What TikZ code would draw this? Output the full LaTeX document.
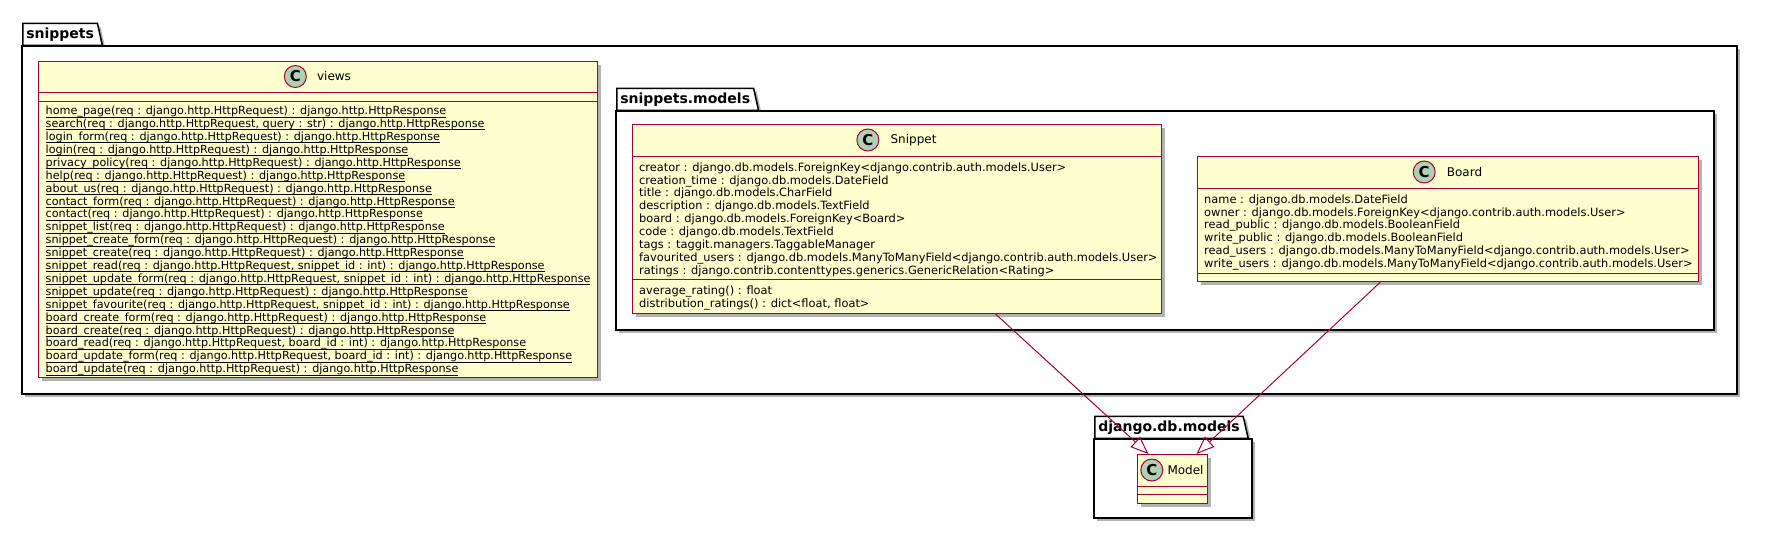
\documentclass[tikz,border=0pt]{standalone}
\usepackage{fontspec}
\setmainfont{DejaVu Sans}
\usetikzlibrary{positioning,shadows,shapes.geometric,arrows.meta}
\definecolor{umlred}{HTML}{A80036}
\definecolor{umlfill}{HTML}{FEFECE}
\definecolor{spotfill}{HTML}{ADD1B2}
% podcrtano kot v PlantUML (crta na visini podcrtaja)
\newcommand{\stat}[1]{\setbox0\hbox{#1}\rlap{\rule[-2.7pt]{\wd0}{0.9pt}}\box0}

\begin{document}
\begin{tikzpicture}[
		x=1pt, y=-1pt,
		% senca kot v PlantUML
		umlshadow/.style={drop shadow={shadow xshift=3pt, shadow yshift=-3pt, fill=black, opacity=.3}},
		package/.style={draw=black, line width=1.5pt, fill=white, umlshadow},
		pkgtab/.style={package, trapezium, trapezium left angle=90, trapezium right angle=70, trapezium stretches=true, minimum height=22pt, inner xsep=3.5pt, inner ysep=0pt, anchor=bottom left corner, font=\bfseries\fontsize{14}{16}\selectfont},
		umlclass/.style={draw=umlred, line width=1pt, fill=umlfill, inner sep=0pt, anchor=north west, umlshadow},
		umlline/.style={draw=umlred, line width=1pt},
		spot/.style={circle, draw=umlred, line width=1pt, fill=spotfill, minimum size=22pt, inner sep=0pt, font=\bfseries\fontsize{15}{15}\selectfont},
		classname/.style={inner sep=0pt, font=\fontsize{12}{14}\selectfont},
		member/.style={inner sep=0pt, anchor=north west, align=left, font=\fontsize{11.4}{12.9}\selectfont},
		extends/.style={draw=umlred, line width=1pt, -{Triangle[open, length=18pt, width=14pt]}}
		]
		\useasboundingbox (0,0) rectangle (1771,544);

		% paket snippets
		\node[pkgtab] (snippetstab) at (22,46) {snippets};
		\draw[package] (snippetstab.bottom left corner) rectangle (1737,394);

		% razred views
		\node[umlclass, minimum width=559pt, minimum height=316pt] (views) at (38,61) {};
		\draw[umlline] ([yshift=-31pt]views.north west) -- ([yshift=-31pt]views.north east);
		\draw[umlline] ([yshift=-40pt]views.north west) -- ([yshift=-40pt]views.north east);
		\node[classname] (viewsname) at ([xshift=16pt, yshift=-15.5pt]views.north) {views};
		\node[spot, left=10pt of viewsname] (viewsspot) {C};
		\node[member, font=\fontsize{11.2}{12.9}\selectfont] (viewsmethods) at (45.5,106) {%
			\stat{home\_page(req : django.http.HttpRequest) : django.http.HttpResponse}\\
			\stat{search(req : django.http.HttpRequest, query : str) : django.http.HttpResponse}\\
			\stat{login\_form(req : django.http.HttpRequest) : django.http.HttpResponse}\\
			\stat{login(req : django.http.HttpRequest) : django.http.HttpResponse}\\
			\stat{privacy\_policy(req : django.http.HttpRequest) : django.http.HttpResponse}\\
			\stat{help(req : django.http.HttpRequest) : django.http.HttpResponse}\\
			\stat{about\_us(req : django.http.HttpRequest) : django.http.HttpResponse}\\
			\stat{contact\_form(req : django.http.HttpRequest) : django.http.HttpResponse}\\
			\stat{contact(req : django.http.HttpRequest) : django.http.HttpResponse}\\
			\stat{snippet\_list(req : django.http.HttpRequest) : django.http.HttpResponse}\\
			\stat{snippet\_create\_form(req : django.http.HttpRequest) : django.http.HttpResponse}\\
			\stat{snippet\_create(req : django.http.HttpRequest) : django.http.HttpResponse}\\
			\stat{snippet\_read(req : django.http.HttpRequest, snippet\_id : int) : django.http.HttpResponse}\\
			\stat{snippet\_update\_form(req : django.http.HttpRequest, snippet\_id : int) : django.http.HttpResponse}\\
			\stat{snippet\_update(req : django.http.HttpRequest) : django.http.HttpResponse}\\
			\stat{snippet\_favourite(req : django.http.HttpRequest, snippet\_id : int) : django.http.HttpResponse}\\
			\stat{board\_create\_form(req : django.http.HttpRequest) : django.http.HttpResponse}\\
			\stat{board\_create(req : django.http.HttpRequest) : django.http.HttpResponse}\\
			\stat{board\_read(req : django.http.HttpRequest, board\_id : int) : django.http.HttpResponse}\\
			\stat{board\_update\_form(req : django.http.HttpRequest, board\_id : int) : django.http.HttpResponse}\\
			\stat{board\_update(req : django.http.HttpRequest) : django.http.HttpResponse}};

		% paket snippets.models
		\node[pkgtab] (modelstab) at (616,111) {snippets.models};
		\draw[package] (modelstab.bottom left corner) rectangle (1714,330);

		% razred Snippet
		\node[umlclass, minimum width=529pt, minimum height=189pt] (snippet) at (632,124) {};
		\draw[umlline] ([yshift=-32pt]snippet.north west) -- ([yshift=-32pt]snippet.north east);
		\draw[umlline] ([yshift=-155pt]snippet.north west) -- ([yshift=-155pt]snippet.north east);
		\node[classname] (snippetname) at ([xshift=16.5pt, yshift=-16pt]snippet.north) {Snippet};
		\node[spot, left=11pt of snippetname] (snippetspot) {C};
		\node[member] (snippetattrs) at (639,162.3) {%
			creator : django.db.models.ForeignKey<django.contrib.auth.models.User>\\
			creation\_time : django.db.models.DateField\\
			title : django.db.models.CharField\\
			description : django.db.models.TextField\\
			board : django.db.models.ForeignKey<Board>\\
			code : django.db.models.TextField\\
			tags : taggit.managers.TaggableManager\\
			favourited\_users : django.db.models.ManyToManyField<django.contrib.auth.models.User>\\
			ratings : django.contrib.contenttypes.generics.GenericRelation<Rating>};
		\node[member] (snippetmethods) at (639,285.3) {%
			average\_rating() : float\\
			distribution\_ratings() : dict<float, float>};

		% razred Board
		\node[umlclass, minimum width=501pt, minimum height=125pt] (board) at (1197,156) {};
		\draw[umlline] ([yshift=-32.5pt]board.north west) -- ([yshift=-32.5pt]board.north east);
		\draw[umlline] ([yshift=-117pt]board.north west) -- ([yshift=-117pt]board.north east);
		\node[classname] (boardname) at ([xshift=16.5pt, yshift=-16pt]board.north) {Board};
		\node[spot, left=11pt of boardname] (boardspot) {C};
		\node[member] (boardattrs) at (1204,194.3) {%
			name : django.db.models.DateField\\
			owner : django.db.models.ForeignKey<django.contrib.auth.models.User>\\
			read\_public : django.db.models.BooleanField\\
			write\_public : django.db.models.BooleanField\\
			read\_users : django.db.models.ManyToManyField<django.contrib.auth.models.User>\\
			write\_users : django.db.models.ManyToManyField<django.contrib.auth.models.User>};

		% paket django.db.models
		\node[pkgtab] (djangotab) at (1094,439) {django.db.models};
		\draw[package] (djangotab.bottom left corner) rectangle (1252,518);

		% razred Model
		\node[umlclass, minimum width=70pt, minimum height=49pt] (model) at (1137,454) {};
		\draw[umlline] ([yshift=-32pt]model.north west) -- ([yshift=-32pt]model.north east);
		\draw[umlline] ([yshift=-40pt]model.north west) -- ([yshift=-40pt]model.north east);
		\node[classname] (modelname) at ([xshift=13pt, yshift=-16pt]model.north) {Model};
		\node[spot, left=4pt of modelname] (modelspot) {C};

		% dedovanje
		\draw[extends] ([xshift=98.5pt]snippet.south) -- ([xshift=-24pt]model.north);
		\draw[extends] ([xshift=-67.5pt]board.south) -- ([xshift=24pt]model.north);
	\end{tikzpicture}
\end{document}
